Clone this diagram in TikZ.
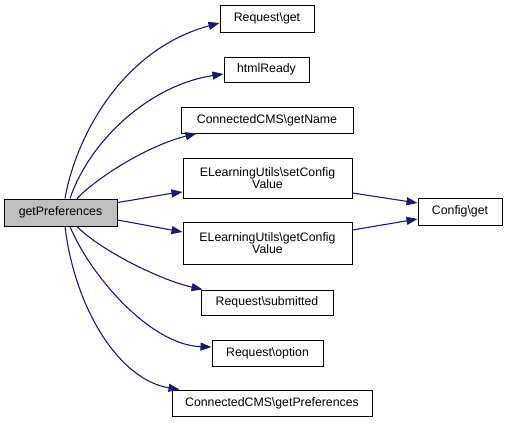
\documentclass[tikz,border=0pt]{standalone}
\usepackage{fontspec}
\setmainfont{Liberation Sans}
\usetikzlibrary{arrows.meta}

\definecolor{edgeblue}{HTML}{191970}
\definecolor{rootgray}{HTML}{BFBFBF}

\tikzset{
  fnbox/.style={draw,line width=1pt,rectangle,inner sep=0pt,align=center,
    font=\fontsize{12.3}{11.5}\selectfont},
  callarrow/.style={edgeblue,line width=1.1pt,-{Triangle[length=11pt,width=8pt]}}
}

\newcommand{\bsl}{\textbackslash}

\begin{document}
\begin{tikzpicture}[x=1pt,y=-1pt]
      \useasboundingbox (0,0) rectangle (507,423);

      %%%%%%%%%%%%%%%%%%%%%%%%%%%%%%%%%%%%%%%%%%%%%%%%%%%%%%%%%%%%%%%%%%%%%%%%%%%
      %%%%  Caller
      \node[fnbox,fill=rootgray,minimum width=113pt,minimum height=27pt]
        (getprefs) at (60.5,212.5) {getPreferences};

      %%%%%%%%%%%%%%%%%%%%%%%%%%%%%%%%%%%%%%%%%%%%%%%%%%%%%%%%%%%%%%%%%%%%%%%%%%%
      %%%%  Callees
      \node[fnbox,minimum width=94pt,minimum height=27pt]
        (reqget) at (267,18.5) {Request\bsl get};
      \node[fnbox,minimum width=85pt,minimum height=25pt]
        (htmlready) at (266.5,69.5) {htmlReady};
      \node[fnbox,minimum width=172pt,minimum height=26pt]
        (cmsname) at (267,120) {ConnectedCMS\bsl getName};
      \node[fnbox,minimum width=169pt,minimum height=40pt]
        (setcfg) at (267.5,178) {ELearningUtils\bsl setConfig\\Value};
      \node[fnbox,minimum width=169pt,minimum height=42pt]
        (getcfg) at (267.5,243) {ELearningUtils\bsl getConfig\\Value};
      \node[fnbox,minimum width=132pt,minimum height=25pt]
        (submitted) at (267,302.5) {Request\bsl submitted};
      \node[fnbox,minimum width=111pt,minimum height=26pt]
        (option) at (267.5,353) {Request\bsl option};
      \node[fnbox,minimum width=200pt,minimum height=26pt]
        (cmsprefs) at (272,403) {ConnectedCMS\bsl getPreferences};
      \node[fnbox,minimum width=84pt,minimum height=27pt]
        (cfgget) at (460,211.5) {Config\bsl get};

      %%%%%%%%%%%%%%%%%%%%%%%%%%%%%%%%%%%%%%%%%%%%%%%%%%%%%%%%%%%%%%%%%%%%%%%%%%%
      %%%%  Calls from getPreferences
      \draw[callarrow] ([xshift=4.5pt]getprefs.north)
        .. controls (75,140) and (120,50) .. ([yshift=-4.5pt]reqget.west);
      \draw[callarrow] ([xshift=9.5pt]getprefs.north)
        .. controls (90,140) and (150,85) .. ([yshift=-4.5pt]htmlready.west);
      \draw[callarrow] ([xshift=16.5pt]getprefs.north)
        .. controls (100,175) and (150,145) .. ([xshift=16pt]cmsname.south west);
      \draw[callarrow] ([yshift=10pt]getprefs.east)
        .. controls (140,199) and (160,195) .. ([yshift=-14pt]setcfg.west);
      \draw[callarrow] ([yshift=-7.5pt]getprefs.east)
        .. controls (140,224) and (160,228) .. ([yshift=11pt]getcfg.west);
      \draw[callarrow] ([xshift=16.5pt]getprefs.south)
        .. controls (100,250) and (160,280) .. ([xshift=2pt]submitted.north west);
      \draw[callarrow] ([xshift=9.5pt]getprefs.south)
        .. controls (90,275) and (150,345) .. ([yshift=6pt]option.west);
      \draw[callarrow] ([xshift=4.5pt]getprefs.south)
        .. controls (75,310) and (120,380) .. ([xshift=8pt]cmsprefs.north west);

      %%%%%%%%%%%%%%%%%%%%%%%%%%%%%%%%%%%%%%%%%%%%%%%%%%%%%%%%%%%%%%%%%%%%%%%%%%%
      %%%%  Calls into Config\get
      \draw[callarrow] ([yshift=-15pt]setcfg.east) -- ([yshift=8.5pt]cfgget.west);
      \draw[callarrow] ([yshift=13pt]getcfg.east) -- ([yshift=-7.5pt]cfgget.west);
\end{tikzpicture}
\end{document}
